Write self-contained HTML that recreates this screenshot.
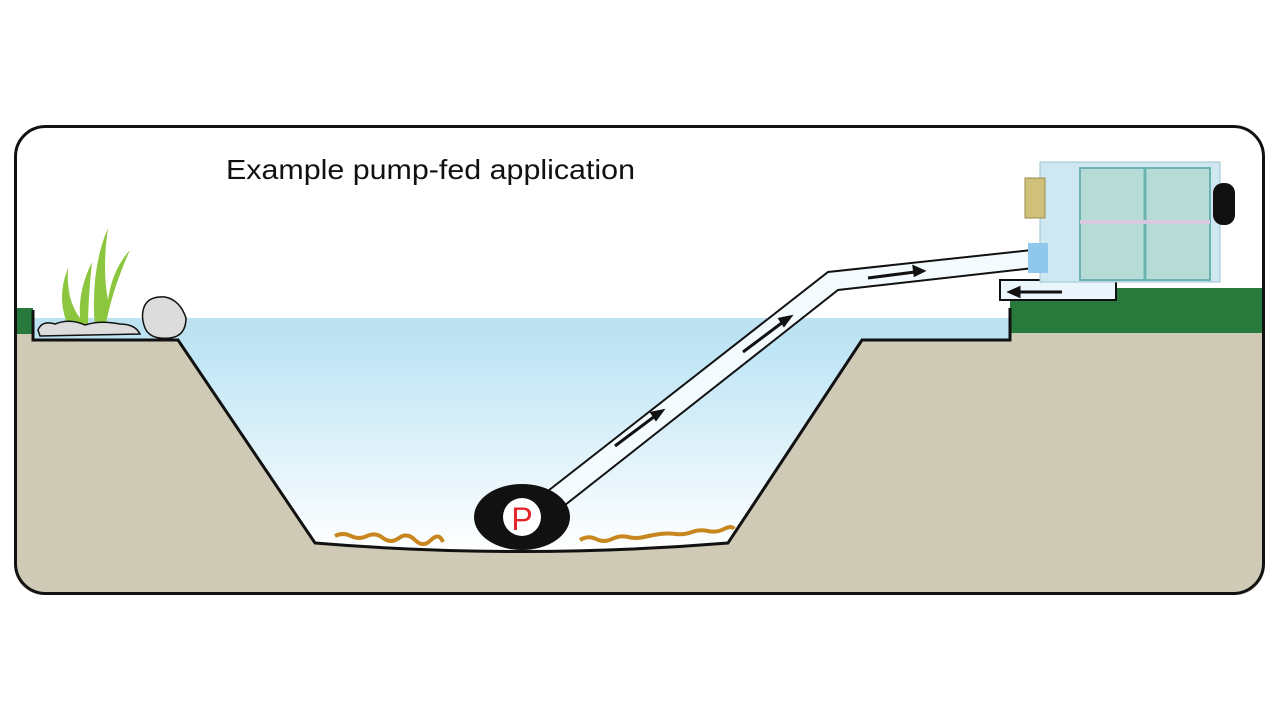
<!DOCTYPE html>
<html><head><style>body{margin:0;background:#fff}svg{display:block}</style></head><body>
<svg width="1280" height="720" viewBox="0 0 1280 720" xmlns="http://www.w3.org/2000/svg">
<defs>
<linearGradient id="w" x1="0" y1="0" x2="0" y2="1"><stop offset="0" stop-color="#b5e1f4"/><stop offset="1" stop-color="#ffffff"/></linearGradient>
<clipPath id="c"><rect x="14" y="125" width="1251" height="470" rx="30"/></clipPath>
</defs>
<g clip-path="url(#c)">
<rect x="0" y="0" width="1280" height="720" fill="#fff"/>
<rect x="0" y="288" width="1280" height="432" fill="#cfcab6" />
<path d="M0 318 H1010 V338 H862 L728 543 Q520 560 315 543 L178 340 H33 V318 Z" fill="url(#w)"/>
<rect x="0" y="288" width="1280" height="30" fill="#fff"/>
<rect x="0" y="308" width="33" height="26" fill="#277a3c"/>
<rect x="1010" y="288" width="280" height="45" fill="#277a3c"/>
<rect x="33" y="318" width="977" height="22" fill="#bde3f3"/>
<path d="M33 310 V340 H178 L315 543 Q520 560 728 543 L862 340 H1010 V308" fill="none" stroke="#111" stroke-width="3"/>
</g>
<rect x="15.5" y="126.5" width="1248" height="467" rx="30" fill="none" stroke="#111" stroke-width="3"/>
<text x="226" y="179" font-family="Liberation Sans, sans-serif" font-size="28" fill="#111" textLength="409" lengthAdjust="spacingAndGlyphs">Example pump-fed application</text>
<!-- plants -->
<path d="M70 330 Q55 300 68 268 Q66 300 80 318 Q78 290 92 262 Q88 300 88 328Z" fill="#8cc63f"/>
<path d="M95 328 Q90 270 108 228 Q102 270 108 300 Q112 270 130 250 Q112 290 105 328Z" fill="#8cc63f"/>
<path d="M38 330 Q42 320 55 324 Q70 318 85 325 Q100 320 120 324 Q135 324 140 334 L40 336Z" fill="#dcdcdc" stroke="#111" stroke-width="1.5"/>
<path d="M145 305 Q150 296 165 297 Q180 300 186 318 Q186 336 170 338 Q150 340 145 328 Q140 315 145 305Z" fill="#dcdcdc" stroke="#111" stroke-width="1.5"/>
<!-- debris -->
<path d="M335 536 q8 -4 16 0 t16 0 t16 2 t16 0 t16 2 t16 0 t12 2" fill="none" stroke="#c8871e" stroke-width="4"/>
<path d="M580 540 q8 -5 16 -1 t16 0 t16 -2 t16 0 t16 -3 t16 0 t16 -2 t16 -1 t16 -2 t10 0" fill="none" stroke="#c8871e" stroke-width="4"/>
<!-- pipe -->
<path d="M530 505 L828 272 L1032 250 L1034 268 L838 290 L546 520 Z" fill="#f4fbfe" stroke="#111" stroke-width="2"/>
<path d="M1000 280 H1088 V262 H1116 V300 H1000 Z" fill="#eaf6fb" stroke="#111" stroke-width="2"/>
<g stroke="#111" stroke-width="3" fill="#111">
<line x1="615" y1="446" x2="655" y2="416"/><path d="M662 411 l-10 2 l4 6Z"/>
<line x1="743" y1="352" x2="783" y2="322"/><path d="M790 317 l-10 2 l4 6Z"/>
<line x1="868" y1="278" x2="915" y2="272"/><path d="M923 271 l-9 -4 l1 8Z"/>
<line x1="1062" y1="292" x2="1018" y2="292"/><path d="M1010 292 l9 -4 v8Z"/>
</g>
<!-- filter -->
<rect x="1040" y="162" width="180" height="120" fill="#cfe7f0" stroke="#9fc3d2"/>
<rect x="1080" y="168" width="130" height="112" fill="#b7dcd8" stroke="#6bb3b0" stroke-width="2"/>
<line x1="1145" y1="168" x2="1145" y2="280" stroke="#6bb3b0" stroke-width="3"/>
<line x1="1080" y1="222" x2="1210" y2="222" stroke="#d8c8e0" stroke-width="4"/>
<rect x="1025" y="178" width="20" height="40" fill="#cfc07a" stroke="#9a8d4a"/>
<rect x="1028" y="243" width="20" height="30" fill="#8fc8ec"/>
<rect x="1213" y="183" width="22" height="42" rx="10" fill="#111"/>
<!-- pump -->
<ellipse cx="522" cy="517" rx="48" ry="33" fill="#111"/>
<circle cx="522" cy="517" r="19" fill="#fff"/>
<text x="522" y="530" text-anchor="middle" font-family="Liberation Sans, sans-serif" font-size="32" fill="#e3262b">P</text>
</svg>
</body></html>
